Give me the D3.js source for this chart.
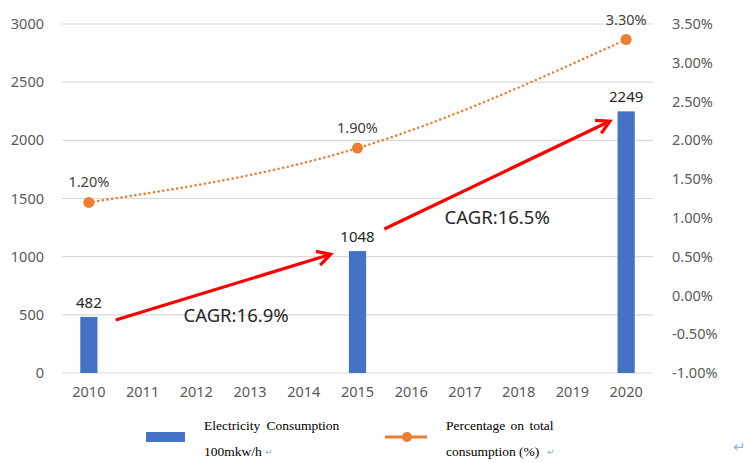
<!DOCTYPE html>
<html>
<head>
<meta charset="utf-8">
<script src="https://cdn.jsdelivr.net/npm/d3@7"></script>
<style>
  html, body { margin: 0; padding: 0; background: #fff; }
  #vis { width: 746px; height: 463px; }
  text { font-family: 'Noto Sans', sans-serif; }
</style>
</head>
<body>
<div id="vis"></div>
<script>
// chart data
var years = ["2010","2011","2012","2013","2014","2015","2016","2017","2018","2019","2020"]
var barYears = ["2010","2015","2020"]
var consumption = [482, 1048, 2249]
var pctYears = ["2010","2015","2020"]
var percentage = [1.20, 1.90, 3.30]
var leftTicks = [0, 500, 1000, 1500, 2000, 2500, 3000]
var rightTicks = [-1.0, -0.5, 0.0, 0.5, 1.0, 1.5, 2.0, 2.5, 3.0, 3.5]
// CAGR annotations: [fromYear, fromValue, toYear, toValue, label, labelYear, labelValue]
var cagrArrows = [
  [2010.5, 455, 2014.5, 1020, "CAGR:16.9%", 2012.74, 438],
  [2015.5, 1238, 2019.7, 2165, "CAGR:16.5%", 2017.6, 1281]
]

var margin = { left: 62, right: 93, top: 24, bottom: 90 }
var width = 746, height = 463
var plotW = width - margin.left - margin.right
var plotH = height - margin.top - margin.bottom

var svg = d3.select("#vis").append("svg")
  .attr("width", width)
  .attr("height", height)

var g = svg.append("g")
  .attr("transform", "translate(" + margin.left + "," + margin.top + ")")

var x = d3.scaleBand()
  .domain(years)
  .range([0, plotW])
  .paddingInner(0.68)
  .paddingOuter(0.34)

var xc = function (yr) { return x(yr) + x.bandwidth() / 2 }
// numeric year -> centre position (for annotations)
var xNum = d3.scaleLinear()
  .domain([2010, 2020])
  .range([xc("2010"), xc("2020")])

var y = d3.scaleLinear().domain([0, 3000]).range([plotH, 0])
var y2 = d3.scaleLinear().domain([-1.0, 3.5]).range([plotH, 0])

// gridlines
g.selectAll(".grid")
  .data(leftTicks)
  .enter()
  .append("line")
  .attr("x1", 0)
  .attr("x2", plotW)
  .attr("y1", function (d) { return y(d) })
  .attr("y2", function (d) { return y(d) })
  .attr("stroke", "#d9d9d9")
  .attr("stroke-width", 1.2)

// left axis
var axisLeft = d3.axisLeft(y).tickValues(leftTicks).tickSize(0).tickPadding(18)
  .tickFormat(d3.format("d"))
var la = g.append("g").call(axisLeft)
la.select("path.domain").remove()
la.selectAll("text")
  .style("font-family", "Noto Sans")
  .attr("font-size", "14.5px")
  .attr("fill", "#595959")

// right axis
var axisRight = d3.axisRight(y2).tickValues(rightTicks).tickSize(0).tickPadding(19)
  .tickFormat(function (d) { return d.toFixed(2) + "%" })
var ra = g.append("g").attr("transform", "translate(" + plotW + ",0)").call(axisRight)
ra.select("path.domain").remove()
ra.selectAll("text")
  .style("font-family", "Noto Sans")
  .attr("font-size", "14.5px")
  .attr("fill", "#595959")

// bottom axis
var axisBottom = d3.axisBottom(x).tickSize(0).tickPadding(14)
var ba = g.append("g").attr("transform", "translate(0," + plotH + ")").call(axisBottom)
ba.select("path.domain").remove()
ba.selectAll("text")
  .style("font-family", "Noto Sans")
  .attr("font-size", "14.5px")
  .attr("fill", "#595959")

// bars
g.selectAll(".bar")
  .data(consumption)
  .enter()
  .append("rect")
  .attr("x", function (d, i) { return x(barYears[i]) })
  .attr("y", function (d) { return y(d) })
  .attr("width", x.bandwidth())
  .attr("height", function (d) { return plotH - y(d) })
  .attr("fill", "#4472c4")

g.selectAll(".barlabel")
  .data(consumption)
  .enter()
  .append("text")
  .attr("x", function (d, i) { return xc(barYears[i]) })
  .attr("y", function (d) { return y(d) - 9 })
  .attr("text-anchor", "middle")
  .attr("font-size", "15px")
  .attr("fill", "#262626")
  .text(function (d) { return d })

// percentage line
var line = d3.line()
  .x(function (d, i) { return xc(pctYears[i]) })
  .y(function (d) { return y2(d) })
  .curve(d3.curveNatural)

g.append("path")
  .datum(percentage)
  .attr("d", line)
  .attr("fill", "none")
  .attr("stroke", "#ed7d31")
  .attr("stroke-width", 2.5)
  .attr("stroke-dasharray", "0.1,4.6")
  .attr("stroke-linecap", "round")

g.selectAll(".dot")
  .data(percentage)
  .enter()
  .append("circle")
  .attr("cx", function (d, i) { return xc(pctYears[i]) })
  .attr("cy", function (d) { return y2(d) })
  .attr("r", 5.5)
  .attr("fill", "#ed7d31")

g.selectAll(".pctlabel")
  .data(percentage)
  .enter()
  .append("text")
  .attr("x", function (d, i) { return xc(pctYears[i]) })
  .attr("y", function (d) { return y2(d) - 15 })
  .attr("text-anchor", "middle")
  .attr("font-size", "14.5px")
  .attr("fill", "#404040")
  .text(function (d) { return d.toFixed(2) + "%" })

// CAGR arrows
cagrArrows.forEach(function (a) {
  var x1 = xNum(a[0]), y1 = y(a[1]), x2 = xNum(a[2]), y2p = y(a[3])
  var ang = Math.atan2(y2p - y1, x2 - x1)
  var hl = 15, ha = 0.5
  g.append("line")
    .attr("x1", x1).attr("y1", y1)
    .attr("x2", x2 - Math.cos(ang) * 1.5).attr("y2", y2p - Math.sin(ang) * 1.5)
    .attr("stroke", "#ff0000")
    .attr("stroke-width", 3.2)
  g.append("path")
    .attr("d", "M" + (x2 - hl * Math.cos(ang - ha)) + "," + (y2p - hl * Math.sin(ang - ha)) +
      "L" + x2 + "," + y2p +
      "L" + (x2 - hl * Math.cos(ang + ha)) + "," + (y2p - hl * Math.sin(ang + ha)))
    .attr("fill", "none")
    .attr("stroke", "#ff0000")
    .attr("stroke-width", 3.2)
    .attr("stroke-linejoin", "miter")
  g.append("text")
    .attr("x", xNum(a[5]))
    .attr("y", y(a[6]))
    .attr("text-anchor", "middle")
    .attr("font-size", "18.5px")
    .attr("fill", "#262626")
    .text(a[4])
})

// legend
var leg = svg.append("g")
var serif = "'Liberation Serif', 'Times New Roman', serif"
leg.append("rect")
  .attr("x", 146).attr("y", 432)
  .attr("width", 39).attr("height", 10)
  .attr("fill", "#4472c4")
leg.append("text").attr("x", 204).attr("y", 430)
  .style("font-family", serif).attr("font-size", "13.5px").attr("fill", "#000")
  .attr("word-spacing", "3px")
  .text("Electricity Consumption")
leg.append("text").attr("x", 204).attr("y", 456)
  .style("font-family", serif).attr("font-size", "13.5px").attr("fill", "#000")
  .text("100mkw/h")

leg.append("line")
  .attr("x1", 385).attr("x2", 427).attr("y1", 437).attr("y2", 437)
  .attr("stroke", "#ed7d31").attr("stroke-width", 3)
leg.append("circle").attr("cx", 407).attr("cy", 437).attr("r", 5).attr("fill", "#ed7d31")
leg.append("text").attr("x", 446).attr("y", 430)
  .style("font-family", serif).attr("font-size", "13.5px").attr("fill", "#000")
  .attr("word-spacing", "2px")
  .text("Percentage on total")
leg.append("text").attr("x", 446).attr("y", 456)
  .style("font-family", serif).attr("font-size", "13.5px").attr("fill", "#000")
  .text("consumption (%)")

// paragraph marks
var marks = [[265, 455, 9], [547, 455, 9], [733, 452, 15]]
leg.selectAll(".pm")
  .data(marks)
  .enter()
  .append("text")
  .attr("x", function (d) { return d[0] })
  .attr("y", function (d) { return d[1] })
  .attr("font-size", function (d) { return d[2] + "px" })
  .attr("fill", "#8fb4e3")
  .style("font-family", "'DejaVu Sans', sans-serif")
  .text("\u21b5")
</script>
</body>
</html>
